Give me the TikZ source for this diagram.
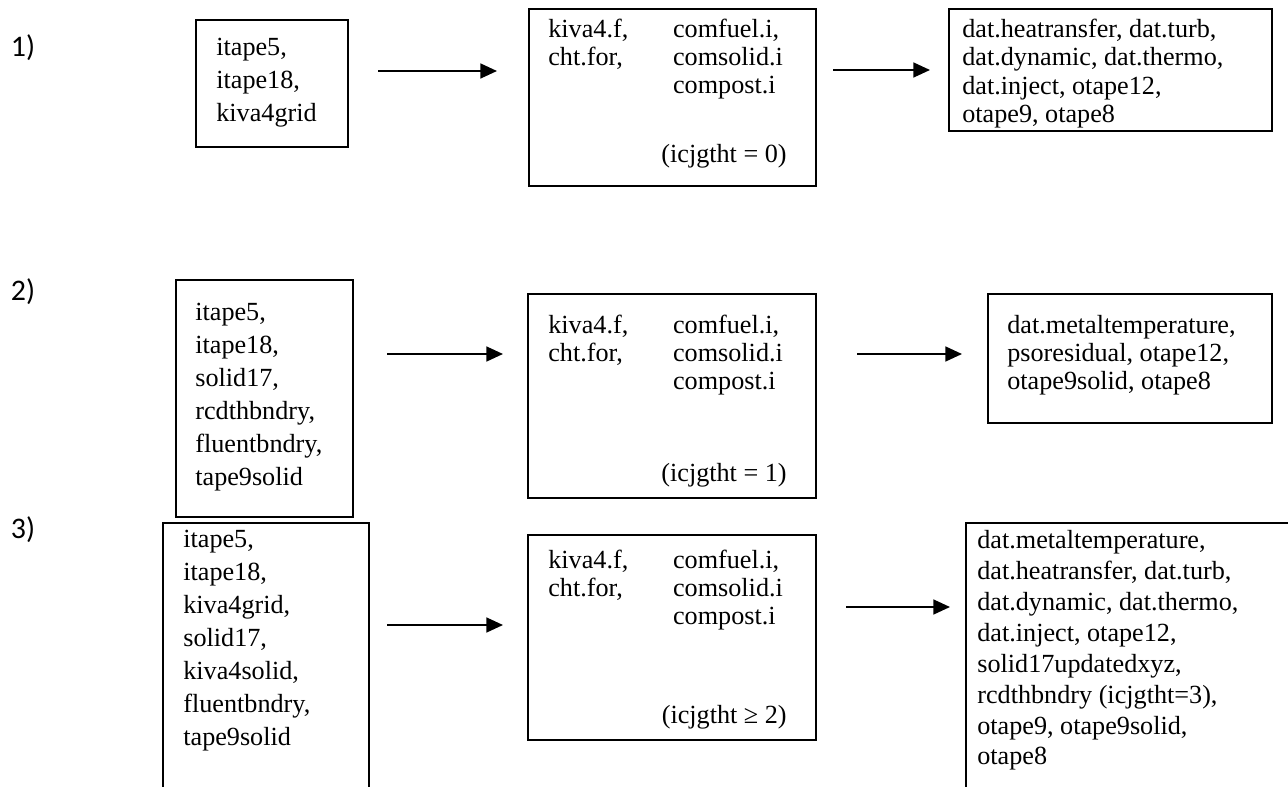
\documentclass[tikz,border=0pt]{standalone}
\usepackage{fontspec}
\setmainfont{Liberation Serif}
\newfontfamily\labfont{Carlito}
\usetikzlibrary{arrows.meta,positioning}

\def\px{0.02cm}

\begin{document}
\begin{tikzpicture}[x=0.02cm,y=-0.02cm,
    every node/.style={inner sep=0pt},
    filebox/.style={draw,line width=1.1pt,anchor=north west},
    intext/.style={anchor=north west,align=left,font=\fontsize{14.9}{18.8}\selectfont},
    outtext/.style={anchor=north west,align=left,font=\fontsize{14.9}{16}\selectfont},
    flagtext/.style={anchor=base east,font=\fontsize{14.9}{16}\selectfont},
    caselab/.style={font=\labfont\fontsize{17}{20}\selectfont},
    flow/.style={-{Triangle[length=9.5pt,width=8.5pt]},line width=1.1pt}]

    \clip (0,0) rectangle (1288,787);

    % case labels
    \node[caselab] (c1) at (23,48) {1)};
    \node[caselab] (c2) at (23,292) {2)};
    \node[caselab] (c3) at (23,530) {3)};

    % boxes
    \node[filebox,minimum width=152*\px,minimum height=127*\px] (in1) at (195,19) {};
    \node[filebox,minimum width=287*\px,minimum height=177*\px] (mid1) at (528,8) {};
    \node[filebox,minimum width=323*\px,minimum height=122*\px] (out1) at (948,8) {};

    \node[filebox,minimum width=177*\px,minimum height=237*\px] (in2) at (175,279) {};
    \node[filebox,minimum width=288*\px,minimum height=204*\px] (mid2) at (527,293) {};
    \node[filebox,minimum width=284*\px,minimum height=129*\px] (out2) at (987,293) {};

    \node[filebox,minimum width=206*\px,minimum height=300*\px] (in3) at (162,522) {};
    \node[filebox,minimum width=288*\px,minimum height=205*\px] (mid3) at (527,534) {};
    \node[filebox,minimum width=340*\px,minimum height=300*\px] (out3) at (965,522) {};

    % texts
    \node[intext] (in1t) at (216,38) {itape5,\\itape18,\\kiva4grid};
    \node[intext] (in2t) at (195,303) {itape5,\\itape18,\\solid17,\\rcdthbndry,\\fluentbndry,\\tape9solid};
    \node[intext] (in3t) at (183,530) {itape5,\\itape18,\\kiva4grid,\\solid17,\\kiva4solid,\\fluentbndry,\\tape9solid};

    \node[outtext] (mid1t) at (548,17) {\begin{tabular}{@{}p{71pt}@{}l@{}}kiva4.f, & comfuel.i,\\cht.for, & comsolid.i\\ & compost.i\end{tabular}};
    \node[outtext] (mid2t) at (548,313) {\begin{tabular}{@{}p{71pt}@{}l@{}}kiva4.f, & comfuel.i,\\cht.for, & comsolid.i\\ & compost.i\end{tabular}};
    \node[outtext] (mid3t) at (548,548) {\begin{tabular}{@{}p{71pt}@{}l@{}}kiva4.f, & comfuel.i,\\cht.for, & comsolid.i\\ & compost.i\end{tabular}};

    \node[flagtext] (mid1f) at (787,163) {(icjgtht = 0)};
    \node[flagtext] (mid2f) at (787,481) {(icjgtht = 1)};
    \node[flagtext] (mid3f) at (787,723) {(icjgtht ≥ 2)};

    \node[outtext] (out1t) at (962,19) {dat.heatransfer, dat.turb,\\dat.dynamic, dat.thermo,\\dat.inject, otape12,\\otape9, otape8};
    \node[outtext] (out2t) at (1007,315) {dat.metaltemperature,\\psoresidual, otape12,\\otape9solid, otape8};
    \node[outtext,font=\fontsize{14.9}{17.6}\selectfont] (out3t) at (977,530) {dat.metaltemperature,\\dat.heatransfer, dat.turb,\\dat.dynamic, dat.thermo,\\dat.inject, otape12,\\solid17updatedxyz,\\rcdthbndry (icjgtht=3),\\otape9, otape9solid,\\otape8};

    % arrows
    \coordinate (s11) at (378,71);
    \coordinate (e11) at (497,71);
    \coordinate (s12) at (833,70);
    \coordinate (e12) at (930,70);
    \coordinate (s21) at (387,354);
    \coordinate (e21) at (503,354);
    \coordinate (s22) at (857,354);
    \coordinate (e22) at (962,354);
    \coordinate (s31) at (387,625);
    \coordinate (e31) at (503,625);
    \coordinate (s32) at (846,607);
    \coordinate (e32) at (950,607);

    \draw[flow] (s11) -- (e11);
    \draw[flow] (s12) -- (e12);
    \draw[flow] (s21) -- (e21);
    \draw[flow] (s22) -- (e22);
    \draw[flow] (s31) -- (e31);
    \draw[flow] (s32) -- (e32);

\end{tikzpicture}
\end{document}
